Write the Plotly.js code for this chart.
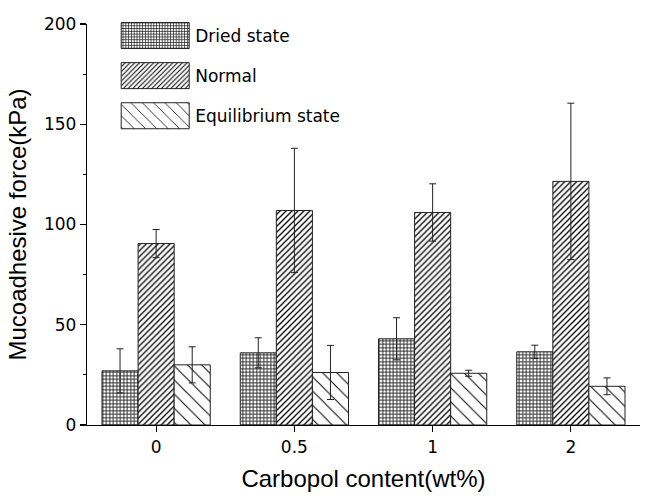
<!DOCTYPE html>
<html>
<head>
<meta charset="utf-8">
<script src="https://cdn.plot.ly/plotly-3.0.1.min.js"></script>
<style>html,body{margin:0;padding:0;background:#fff;}#chart{width:646px;height:499px;}</style>
</head>
<body>
<div id="chart"></div>
<script>
const categories = ["0", "0.5", "1", "2"];
const seriesNames = ["Dried state", "Normal", "Equilibrium state"];
const driedValues = [27, 36, 43, 36.5];
const driedErrors = [11, 7.5, 10.5, 3.3];
const normalValues = [90.5, 107, 106, 121.5];
const normalErrors = [7, 31, 14.3, 39];
const equilibriumValues = [30, 26.2, 25.8, 19.3];
const equilibriumErrors = [9, 13.5, 1.5, 4.2];
const yTickValues = [0, 50, 100, 150, 200];

const patterns = [
  {shape: "+", size: 3.5, solidity: 0.4},
  {shape: "/", size: 4.2, solidity: 0.3},
  {shape: "\\", size: 10, solidity: 0.1}
];
const valueSets = [driedValues, normalValues, equilibriumValues];
const errorSets = [driedErrors, normalErrors, equilibriumErrors];

const traces = seriesNames.map((name, i) => ({
  type: "bar",
  name: name,
  legendgroup: "g" + i,
  x: categories,
  y: valueSets[i],
  marker: {
    color: "#ffffff",
    line: {color: "#222222", width: 1},
    pattern: {shape: patterns[i].shape, size: patterns[i].size, solidity: patterns[i].solidity,
              fgcolor: "#000000", bgcolor: "#ffffff", fillmode: "replace"}
  },
  error_y: {type: "data", array: errorSets[i], visible: true, color: "#222222", thickness: 1, width: 3.5}
}));

const layout = {
  width: 646, height: 499,
  margin: {l: 87, r: 6, t: 24, b: 74},
  paper_bgcolor: "#ffffff", plot_bgcolor: "#ffffff",
  font: {family: "Liberation Sans, Arial, sans-serif", color: "#000"},
  barmode: "group", bargap: 0.217, bargroupgap: 0,
  showlegend: true,
  legend: {x: 0.051, y: 1.015, xanchor: "left", yanchor: "top", traceorder: "grouped",
           tracegroupgap: 15, itemwidth: 70, bgcolor: "rgba(0,0,0,0)",
           font: {family: "DejaVu Sans", size: 17, color: "#000"}},
  xaxis: {
    type: "category", range: [-0.5, 3.5],
    showline: true, linecolor: "#000", linewidth: 1.2, mirror: false,
    ticks: "outside", ticklen: 6, tickcolor: "#000", tickwidth: 1.2,
    showgrid: false, zeroline: false,
    tickfont: {family: "DejaVu Sans", size: 17, color: "#000"},
    title: {text: "Carbopol content(wt%)", font: {family: "Liberation Sans, Arial", size: 24, color: "#000"}, standoff: 14}
  },
  yaxis: {
    range: [0, 200], tickvals: yTickValues, ticktext: yTickValues.map(String),
    showline: true, linecolor: "#000", linewidth: 1.2,
    ticks: "outside", ticklen: 6, tickcolor: "#000", tickwidth: 1.2,
    minor: {dtick: 25, ticks: "outside", ticklen: 3, tickcolor: "#000", tickwidth: 1, showgrid: false},
    showgrid: false, zeroline: false,
    tickfont: {family: "DejaVu Sans", size: 17, color: "#000"},
    title: {text: "Mucoadhesive force(kPa)", font: {family: "Liberation Sans, Arial", size: 24, color: "#000"}, standoff: 10}
  }
};

Plotly.newPlot("chart", traces, layout, {displayModeBar: false, staticPlot: true}).then(gd => {
  // enlarge legend swatches to match the wide boxes of the reference
  gd.querySelectorAll(".legend .legendpoints path").forEach(p => {
    p.setAttribute("d", "M34,13H-34V-13H34Z");
  });
});
</script>
</body>
</html>
